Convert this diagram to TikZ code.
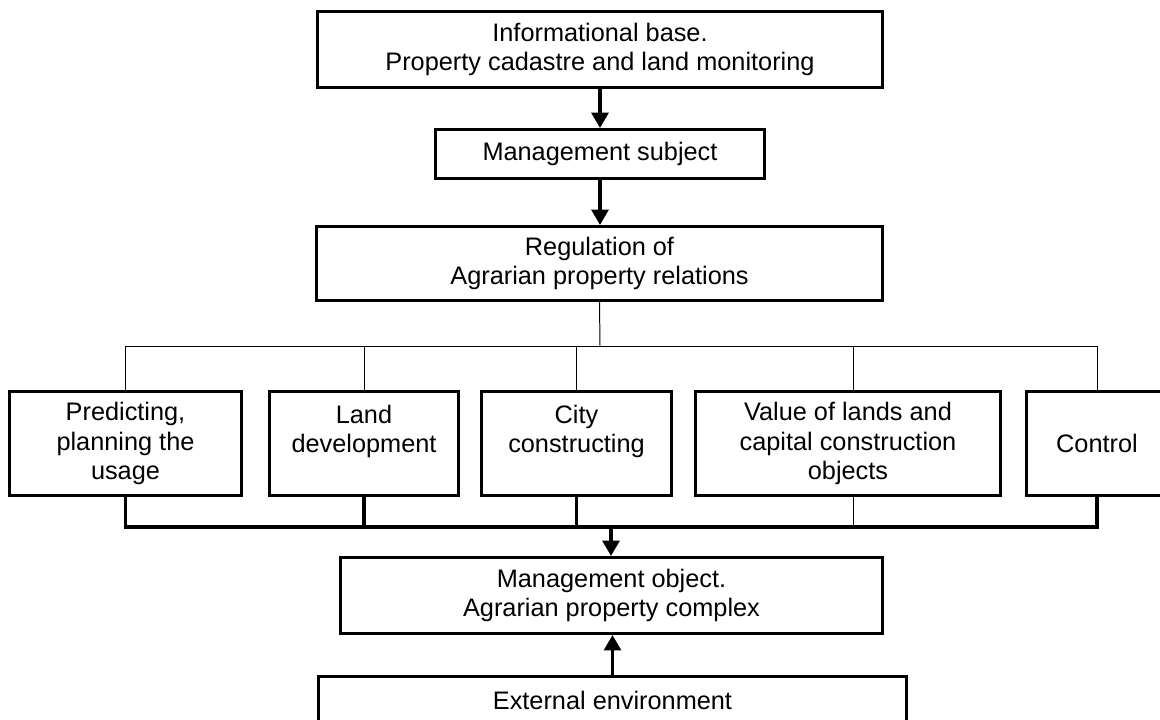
\documentclass[tikz,border=0pt]{standalone}
\usepackage{fontspec}
\setmainfont{Liberation Sans}
\usetikzlibrary{arrows.meta}
\usetikzlibrary{calc}

\begin{document}
\begin{tikzpicture}[x=0.025cm,y=-0.025cm]
	\tikzstyle{box}=[rectangle,draw,line width=2.2pt,align=center,inner sep=0pt,font=\fontsize{18}{21}\selectfont]
	\tikzstyle{row}=[box,minimum height=2.6cm]
	\tikzstyle{bold}=[line width=2.2pt]
	\tikzstyle{thinline}=[line width=0.7pt]
	\tikzstyle{arr}=[bold,-{Triangle[length=0.38cm,width=0.42cm]}]
	\clip (0,0) rectangle (1160,719);
	\node[box,minimum width=14.125cm,minimum height=1.9cm] (info) at (600,49.5) {Informational base.\\Property cadastre and land monitoring};
	\node[box,minimum width=8.225cm,minimum height=1.225cm] (subj) at (600,154) {Management subject};
	\node[box,minimum width=14.15cm,minimum height=1.85cm] (reg) at (599.5,263.5) {Regulation of\\Agrarian property relations};
	\node[row,minimum width=5.8cm] (p1) at (125.5,443.5) {Predicting,\\planning the\\usage};
	\node[row,minimum width=4.725cm] (p2) at (364,443.5) {Land\\development\\\mbox{}};
	\node[row,minimum width=4.75cm] (p3) at (576.5,443.5) {City\\constructing\\\mbox{}};
	\node[row,minimum width=7.625cm] (p4) at (848,443.5) {Value of lands and\\capital construction\\objects};
	\node[row,minimum width=3.525cm] (p5) at (1097,443.5) {Control};
	\node[box,minimum width=13.55cm,minimum height=1.9cm] (obj) at (611.5,595.5) {Management object.\\Agrarian property complex};
	\node[box,minimum width=14.7cm,minimum height=1.175cm] (ext) at (612.5,700) {External environment};
	\coordinate (split) at (600,346);
	\coordinate (join) at (611,527);
	\coordinate (p4top) at ($(p4.north)+(5,0)$);
	\coordinate (p4bot) at ($(p4.south)+(5,0)$);
	% top part
	\draw[arr] (info.south) -- (info.south |- subj.north);
	\draw[arr] (subj.south) -- (subj.south |- reg.north);
	% branches
	\draw[thinline] (reg.south) -- (split);
	\draw[thinline] (p1.north) -- (p1.north |- split) -- (p5.north |- split) -- (p5.north);
	\foreach \n in {p2,p3}
		\draw[thinline] (\n.north) -- (\n.north |- split);
	\draw[thinline] (p4top) -- (p4top |- split);
	% collecting line
	\draw[bold] (p1.south) -- (p1.south |- join) -- (p5.south |- join) -- (p5.south);
	\foreach \n in {p2,p3}
		\draw[bold] (\n.south) -- (\n.south |- join);
	\draw[thinline] (p4bot) -- (p4bot |- join);
	\draw[arr] (join) -- (join |- obj.north);
	\draw[arr] (ext.north) -- (ext.north |- obj.south);
\end{tikzpicture}
\end{document}
